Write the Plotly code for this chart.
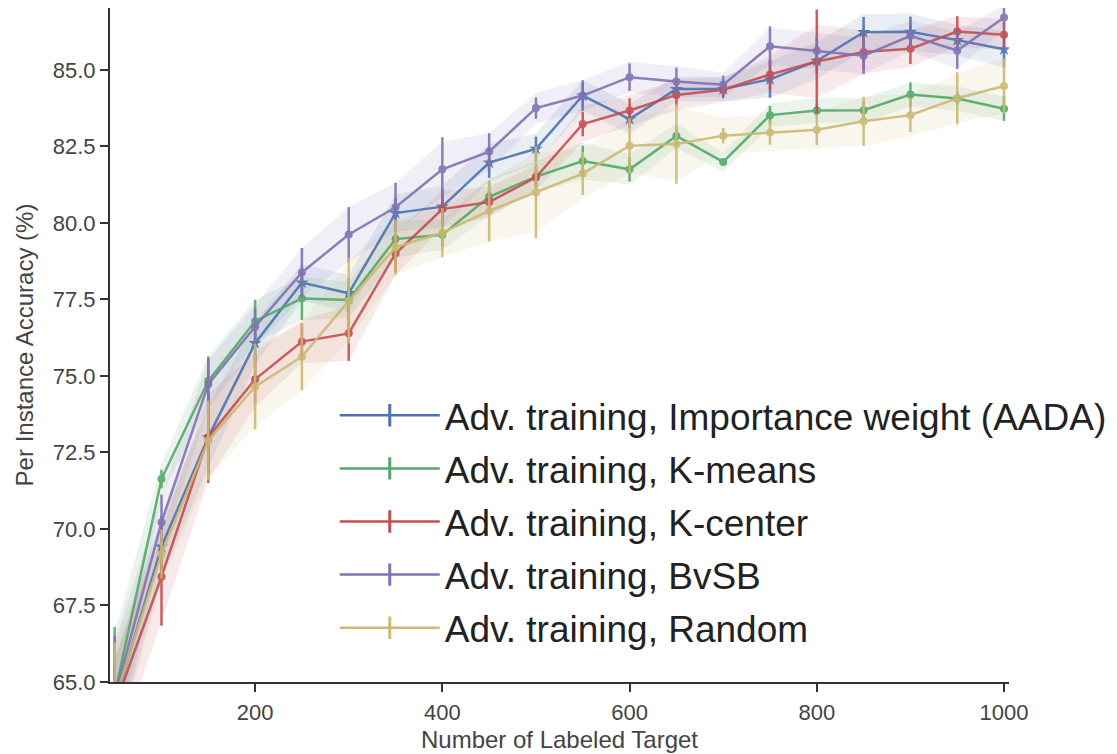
import plotly.graph_objects as go

labeled = [50, 100, 150, 200, 250, 300, 350, 400, 450, 500,
           550, 600, 650, 700, 750, 800, 850, 900, 950, 1000]

series_names = [
    "Adv. training, Importance weight (AADA)",
    "Adv. training, K-means",
    "Adv. training, K-center",
    "Adv. training, BvSB",
    "Adv. training, Random",
]

aada_mean = [64.3, 69.42, 73.0, 76.07, 78.05, 77.70, 80.32, 80.53, 81.97, 82.42,
             84.16, 83.39, 84.37, 84.37, 84.69, 85.29, 86.23, 86.24, 85.97, 85.67]
aada_err = [1.5, 1.0, 1.2, 0.6, 0.5, 0.5, 0.5, 0.6, 0.5, 0.4,
            0.4, 0.3, 0.3, 0.3, 0.6, 0.4, 0.5, 0.5, 0.4, 0.6]
aada_band = [1.4, 1.0, 1.0, 0.7, 0.6, 0.6, 0.6, 0.7, 0.6, 0.5,
             0.5, 0.5, 0.4, 0.4, 0.6, 0.6, 0.6, 0.6, 0.5, 0.6]

kmeans_mean = [64.6, 71.63, 74.84, 76.79, 77.53, 77.48, 79.47, 79.61, 80.85, 81.51,
               82.02, 81.75, 82.84, 81.99, 83.52, 83.67, 83.68, 84.19, 84.06, 83.73]
kmeans_err = [2.2, 0.3, 0.8, 0.7, 0.7, 0.4, 0.6, 0.4, 0.5, 0.4,
              0.5, 0.4, 0.3, 0.1, 0.3, 0.2, 0.3, 0.4, 0.2, 0.4]
kmeans_band = [2.0, 0.5, 0.8, 0.7, 0.7, 0.6, 0.6, 0.5, 0.6, 0.5,
               0.6, 0.5, 0.4, 0.3, 0.4, 0.4, 0.4, 0.4, 0.4, 0.4]

kcenter_mean = [64.2, 68.44, 73.0, 74.89, 76.12, 76.39, 79.0, 80.45, 80.68, 81.49,
                83.23, 83.67, 84.18, 84.35, 84.85, 85.27, 85.58, 85.69, 86.25, 86.15]
kcenter_err = [1.5, 1.6, 1.5, 0.8, 0.6, 0.9, 0.6, 0.5, 0.4, 0.3,
               0.4, 0.4, 0.4, 0.2, 0.5, 1.7, 0.6, 0.5, 0.5, 0.4]
kcenter_band = [1.6, 1.5, 1.4, 0.9, 0.7, 0.9, 0.7, 0.6, 0.5, 0.4,
                0.6, 0.5, 0.5, 0.4, 0.6, 1.2, 0.7, 0.6, 0.5, 0.5]

bvsb_mean = [64.5, 70.22, 74.73, 76.61, 78.38, 79.62, 80.51, 81.75, 82.33, 83.75,
             84.16, 84.76, 84.62, 84.51, 85.77, 85.62, 85.46, 86.11, 85.63, 86.71]
bvsb_err = [2.0, 0.9, 0.85, 0.6, 0.8, 0.9, 0.8, 1.05, 0.6, 0.35,
            0.5, 0.45, 0.45, 0.3, 0.65, 0.5, 0.6, 0.4, 0.6, 0.35]
bvsb_band = [1.8, 0.9, 0.8, 0.7, 0.8, 0.9, 0.8, 0.9, 0.6, 0.5,
             0.5, 0.5, 0.5, 0.4, 0.6, 0.6, 0.6, 0.5, 0.6, 0.4]

random_mean = [64.4, 69.18, 72.89, 74.65, 75.63, 77.45, 79.2, 79.68, 80.39, 81.0,
               81.61, 82.52, 82.58, 82.85, 82.95, 83.04, 83.32, 83.52, 84.07, 84.47]
random_err = [1.9, 0.8, 1.3, 1.4, 1.1, 1.4, 0.9, 0.8, 1.0, 1.5,
              0.7, 0.9, 1.3, 0.25, 0.4, 0.5, 0.8, 0.55, 0.85, 0.9]
random_band = [1.8, 0.9, 1.2, 1.3, 1.1, 1.3, 0.9, 0.8, 1.0, 1.3,
               0.8, 0.9, 1.2, 0.6, 0.6, 0.6, 0.8, 0.7, 0.8, 0.9]

colors = ["#4C72B0", "#55A868", "#C44E52", "#8172B2", "#CCB974"]
fills = ["rgba(76,114,176,0.12)", "rgba(85,168,104,0.12)", "rgba(196,78,82,0.12)",
         "rgba(129,114,178,0.12)", "rgba(204,185,116,0.12)"]
symbols = ["star", "circle", "circle", "circle", "circle"]

means = [aada_mean, kmeans_mean, kcenter_mean, bvsb_mean, random_mean]
errs = [aada_err, kmeans_err, kcenter_err, bvsb_err, random_err]
bands = [aada_band, kmeans_band, kcenter_band, bvsb_band, random_band]

fig = go.Figure()

# shaded bands
for m, b, fc in zip(means, bands, fills):
    hi = [v + d for v, d in zip(m, b)]
    lo = [v - d for v, d in zip(m, b)]
    fig.add_trace(go.Scatter(
        x=labeled + labeled[::-1], y=hi + lo[::-1],
        fill="toself", fillcolor=fc, line=dict(width=0),
        mode="lines", hoverinfo="skip", showlegend=False))

# lines with error bars
for name, m, e, c, s in zip(series_names, means, errs, colors, symbols):
    fig.add_trace(go.Scatter(
        x=labeled, y=m, mode="lines+markers", name=name, showlegend=False,
        line=dict(color=c, width=2.5),
        marker=dict(color=c, size=8 if s == "circle" else 10, symbol=s),
        opacity=0.9,
        error_y=dict(type="data", array=e, visible=True, color=c,
                     thickness=2.5, width=0)))

# legend entries
for i, (name, c) in enumerate(zip(series_names, colors)):
    fig.add_trace(go.Scatter(
        x=[None], y=[None], mode="lines+markers", name=name,
        legendgroup=f"g{i}",
        line=dict(color=c, width=2.5),
        marker=dict(color=c, size=16, symbol="line-ns-open",
                    line=dict(color=c, width=3))))

axis_common = dict(
    showline=True, linecolor="#333333", linewidth=2,
    ticks="outside", tickcolor="#333333", tickwidth=1.5, ticklen=8,
    showgrid=False, zeroline=False, automargin=False,
    tickfont=dict(family="Liberation Sans", size=22, color="#444444"),
)

fig.update_layout(
    width=1117, height=754,
    margin=dict(l=110, r=108, t=8, b=72, autoexpand=False),
    plot_bgcolor="white", paper_bgcolor="white",
    font=dict(family="Liberation Sans", color="#444444"),
    xaxis=dict(range=[45, 1005.3], tickvals=[200, 400, 600, 800, 1000],
               ticklabelstandoff=2,
               title=dict(text="Number of Labeled Target", standoff=7,
                          font=dict(size=24, color="#444444")),
               **axis_common),
    yaxis=dict(range=[65, 87.02], tickvals=[65, 67.5, 70, 72.5, 75, 77.5, 80, 82.5, 85],
               tickformat=".1f",
               title=dict(text="Per Instance Accuracy (%)", standoff=12,
                          font=dict(size=24, color="#444444")),
               **axis_common),
    legend=dict(x=0.25, y=0.441, xanchor="left", yanchor="top",
                bgcolor="rgba(0,0,0,0)", borderwidth=0,
                font=dict(size=37, color="#222222", family="Liberation Sans"),
                tracegroupgap=2, itemwidth=100),
)

fig.write_html("out.html")
